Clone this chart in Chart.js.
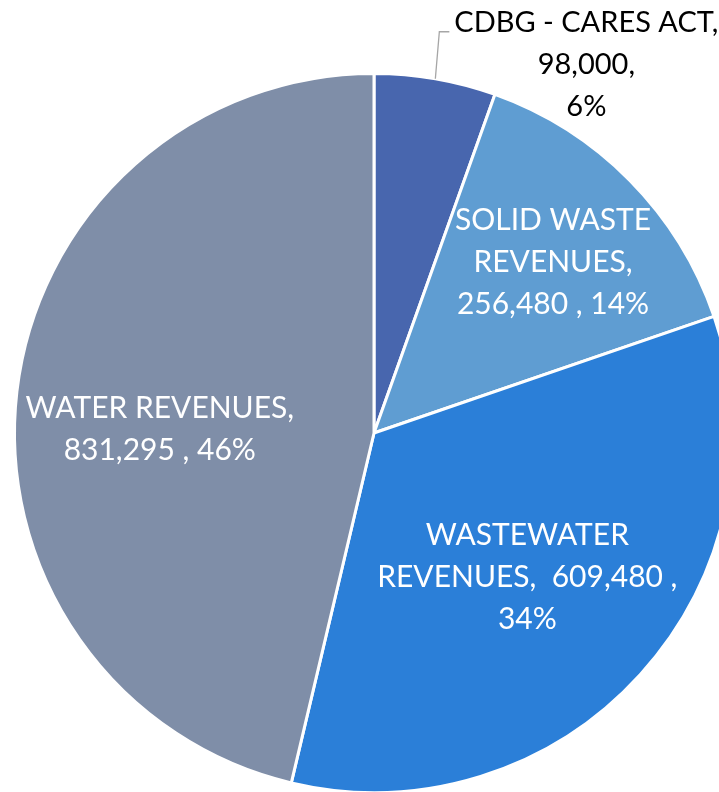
<!DOCTYPE html>
<html>
<head>
<meta charset="utf-8">
<script src="https://cdn.jsdelivr.net/npm/chart.js@4/dist/chart.umd.min.js"></script>
<style>
html,body{margin:0;padding:0;background:#fff;overflow:hidden;width:719px;height:792px;}
#wrap{position:absolute;left:0;top:0;width:748px;height:866px;}
</style>
</head>
<body>
<div id="wrap"><canvas id="c" width="748" height="866"></canvas></div>
<script>
const categories = ['CDBG - CARES ACT', 'SOLID WASTE REVENUES', 'WASTEWATER REVENUES', 'WATER REVENUES'];
const values = [98000, 256480, 609480, 831295];
const percentLabels = ['6%', '14%', '34%', '46%'];
const colors = ['#4866AE', '#5F9DD2', '#2B7FD8', '#7F8EA8'];

const fmt = v => v.toLocaleString('en-US');
// label text lines, wrapped as in the reference
const labelLines = [
  [categories[0] + ',', fmt(values[0]) + ',', percentLabels[0]],
  ['SOLID WASTE', 'REVENUES,', fmt(values[1]) + ' , ' + percentLabels[1]],
  ['WASTEWATER', 'REVENUES,  ' + fmt(values[2]) + ' ,', percentLabels[2]],
  [categories[3] + ',', fmt(values[3]) + ' , ' + percentLabels[3]]
];

const FONT_IN = '30px Lato';
const FONT_OUT = '29px Lato';
const LINE_H = 42;

const labelPlugin = {
  id: 'sliceLabels',
  afterDatasetsDraw(chart) {
    const ctx = chart.ctx;
    const meta = chart.getDatasetMeta(0);
    const place = [
      {outside: true},
      {r: 0.688, da: 1},
      {r: 0.585, da: 1},
      {r: 0.596, da: -5.6}
    ];
    ctx.save();
    ctx.textAlign = 'center';
    ctx.textBaseline = 'middle';
    meta.data.forEach((arc, i) => {
      const p = arc.getProps(['x', 'y', 'startAngle', 'endAngle', 'outerRadius'], true);
      const mid = (p.startAngle + p.endAngle) / 2;
      const lines = labelLines[i];
      const cfg = place[i];
      let cx, cy;
      if (cfg.outside) {
        const ox = p.x + Math.cos(mid) * p.outerRadius;
        const oy = p.y + Math.sin(mid) * p.outerRadius;
        // leader line
        ctx.strokeStyle = '#A6A6A6';
        ctx.lineWidth = 1.3;
        ctx.beginPath();
        ctx.moveTo(ox, oy);
        ctx.lineTo(ox + 4, oy - 47);
        ctx.lineTo(ox + 14, oy - 47);
        ctx.stroke();
        cx = ox + 151;
        cy = oy - 14;
        ctx.font = FONT_OUT;
        ctx.fillStyle = '#000000';
      } else {
        const a = mid + cfg.da * Math.PI / 180;
        cx = p.x + Math.cos(a) * p.outerRadius * cfg.r;
        cy = p.y + Math.sin(a) * p.outerRadius * cfg.r;
        ctx.font = FONT_IN;
        ctx.fillStyle = '#FFFFFF';
      }
      const n = lines.length;
      lines.forEach((t, k) => {
        ctx.fillText(t, cx, cy + (k - (n - 1) / 2) * LINE_H);
      });
    });
    ctx.restore();
  }
};

new Chart(document.getElementById('c'), {
  type: 'pie',
  data: {
    labels: categories,
    datasets: [{
      data: values,
      backgroundColor: colors,
      borderColor: '#FFFFFF',
      borderWidth: 3,
      hoverOffset: 0,
      offset: 0
    }]
  },
  options: {
    responsive: false,
    animation: false,
    layout: {padding: {left: 13, right: 13, top: 72, bottom: 72}},
    plugins: {legend: {display: false}, tooltip: {enabled: false}}
  },
  plugins: [labelPlugin]
});
</script>
</body>
</html>
